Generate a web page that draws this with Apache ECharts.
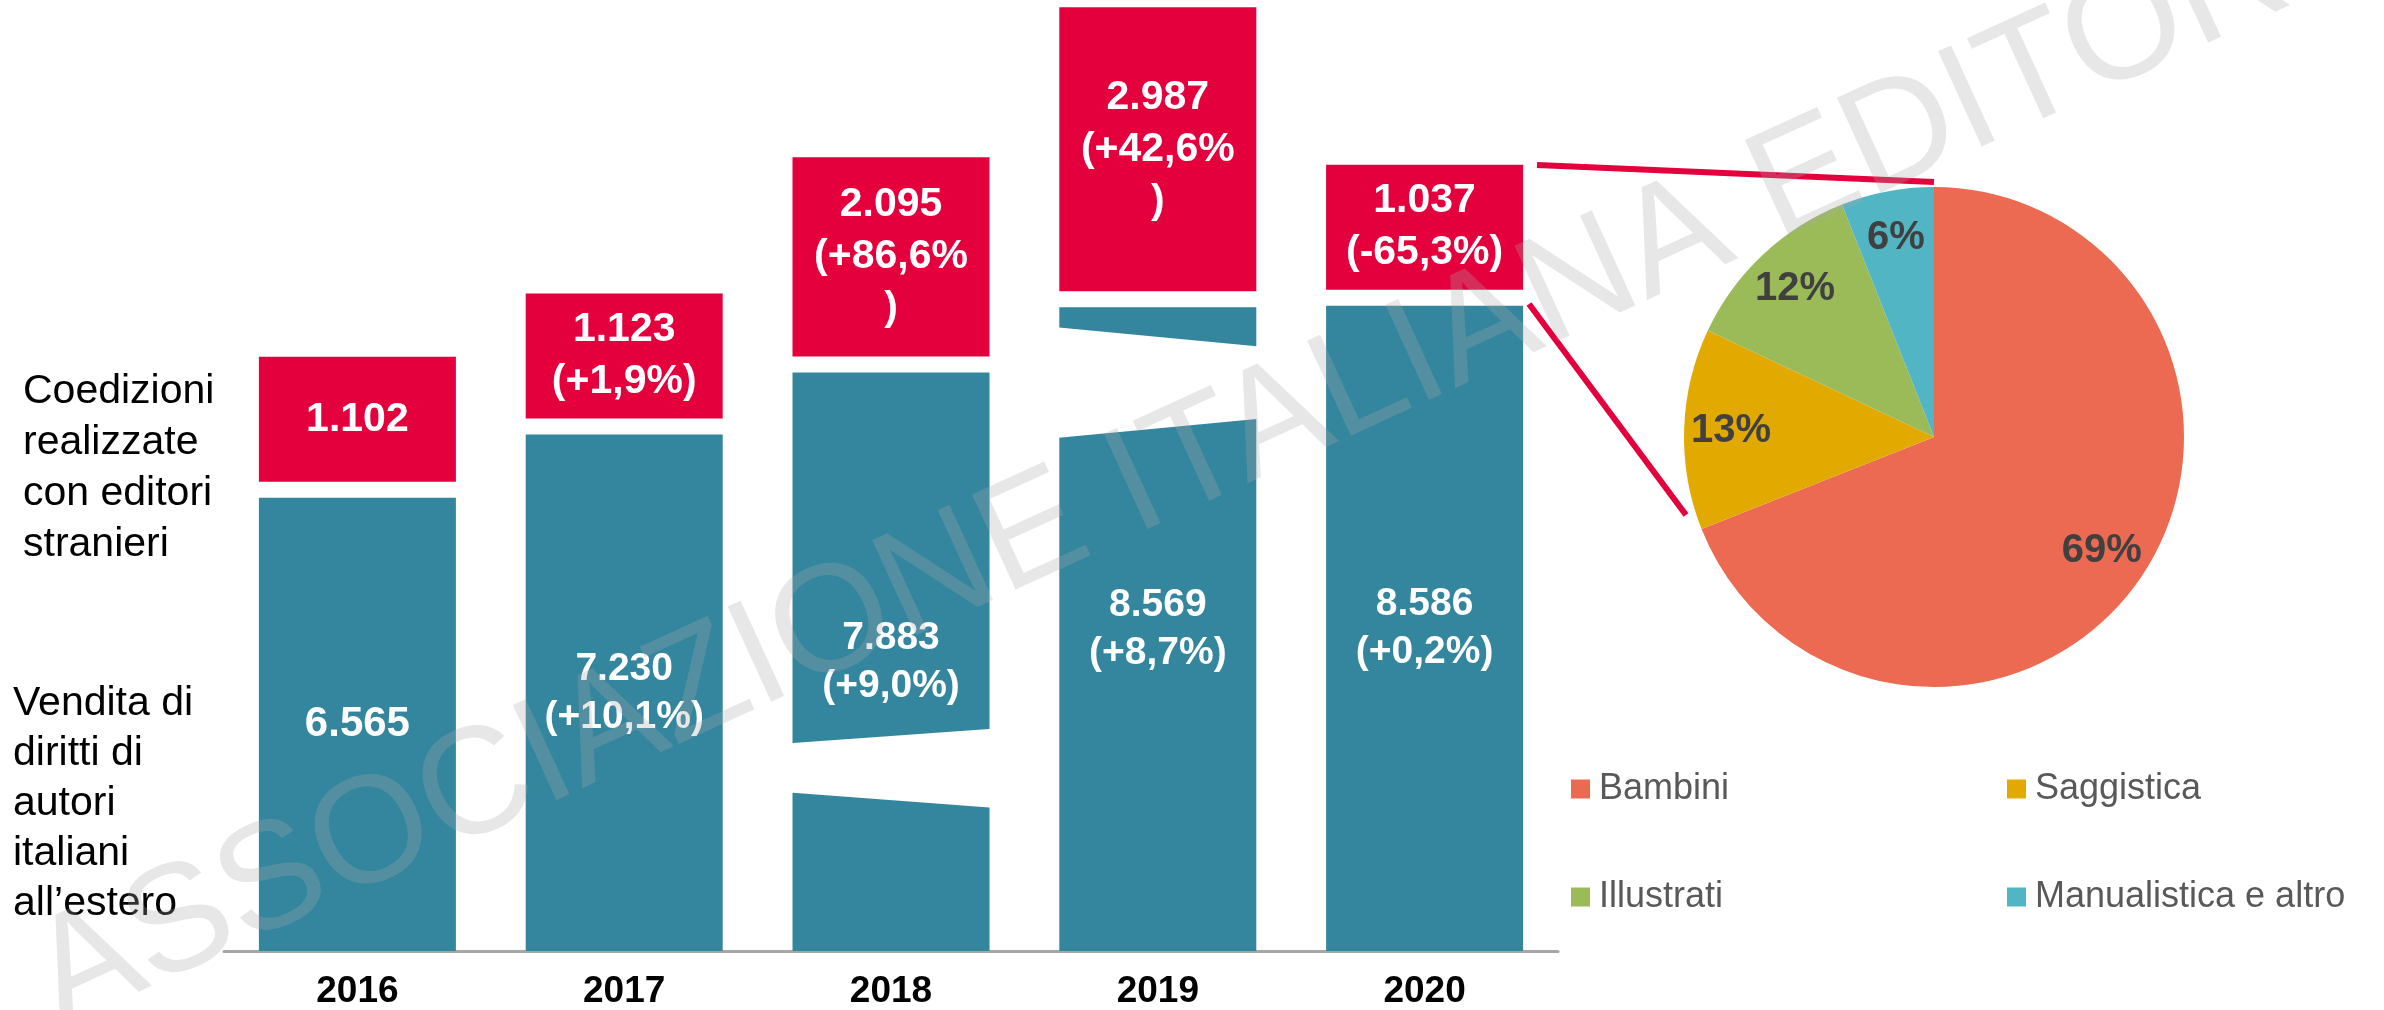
<!DOCTYPE html>
<html>
<head>
<meta charset="utf-8">
<script src="https://cdn.jsdelivr.net/npm/echarts@6/dist/echarts.min.js"></script>
<style>
  html, body { margin: 0; padding: 0; background: #fff; }
  #main { width: 2384px; height: 1010px; }
</style>
</head>
<body>
<div id="main"></div>
<script>
// dati
var years = ['2016', '2017', '2018', '2019', '2020'];
var venditaDiritti = [6565, 7230, 7883, 8569, 8586];
var venditaVar = [null, 10.1, 9.0, 8.7, 0.2];
var coedizioni = [1102, 1123, 2095, 2987, 1037];
var coedizioniVar = [null, 1.9, 86.6, 42.6, -65.3];
var generi = ['Bambini', 'Saggistica', 'Illustrati', 'Manualistica e altro'];
var quote2020 = [69, 13, 12, 6];

// stile
var FONT = '"Liberation Sans", Arial, sans-serif';
var TEAL = '#33869D';
var RED = '#E4003C';
var pieColors = ['#EC6A52', '#E2AA00', '#9BBB59', '#52B5C3'];
var barW = 197;
var gap = 16;
var redMinH = 125;
var yMin = 1800;
// barre interrotte: frazioni dell'altezza (sx alto, dx alto, dx basso, sx basso)
var breakShapes = {
    '2018': [0.359, 0.384, 0.2475, 0.274],
    '2019': [0.969, 0.939, 0.827, 0.797]
};

function fmtNum(v) {
    return String(v).replace(/\B(?=(\d{3})+(?!\d))/g, '.');
}
function fmtVar(v) {
    return (v > 0 ? '+' : '') + v.toFixed(1).replace('.', ',') + '%';
}
function label(values, vars, i) {
    var s = fmtNum(values[i]);
    if (vars[i] !== null) s += '\n(' + fmtVar(vars[i]) + ')';
    return s;
}

var customData = [];
for (var i = 0; i < years.length; i++) {
    customData.push([i, venditaDiritti[i], coedizioni[i]]);
}

var myChart = echarts.init(document.getElementById('main'));
var option = {
    animation: false,
    textStyle: { fontFamily: FONT },
    grid: { left: 224, width: 1334, top: 0, bottom: 55 },
    xAxis: {
        type: 'category',
        data: years,
        axisTick: { show: false },
        axisLine: { lineStyle: { color: '#A6A6A6', width: 3 } },
        axisLabel: { margin: 22, fontSize: 37, fontWeight: 'bold', color: '#000', fontFamily: FONT }
    },
    yAxis: {
        type: 'value',
        show: false,
        min: yMin,
        max: 11800,
        splitLine: { show: false }
    },
    legend: [{
        data: ['Bambini', 'Illustrati'],
        orient: 'vertical',
        left: 1571,
        top: 769,
        padding: 0,
        itemGap: 68,
        itemWidth: 19,
        itemHeight: 19,
        icon: 'rect',
        selectedMode: false,
        textStyle: { fontSize: 36, lineHeight: 40, color: '#595959', fontFamily: FONT, padding: [0, 0, 0, 4] }
    }, {
        data: ['Saggistica', 'Manualistica e altro'],
        orient: 'vertical',
        left: 2007,
        top: 769,
        padding: 0,
        itemGap: 68,
        itemWidth: 19,
        itemHeight: 19,
        icon: 'rect',
        selectedMode: false,
        textStyle: { fontSize: 36, lineHeight: 40, color: '#595959', fontFamily: FONT, padding: [0, 0, 0, 4] }
    }],
    series: [{
        name: 'Vendita di diritti',
        type: 'bar',
        z: 2,
        data: venditaDiritti.map(function (v, k) {
            return k === 0 ? { value: v, label: { fontSize: 42 } } : v;
        }),
        barWidth: barW,
        itemStyle: { color: TEAL },
        label: {
            show: true,
            position: 'inside',
            color: '#fff',
            fontSize: 39,
            fontWeight: 'bold',
            lineHeight: 48,
            fontFamily: FONT,
            formatter: function (p) { return label(venditaDiritti, venditaVar, p.dataIndex); }
        }
    }, {
        name: 'Coedizioni',
        type: 'custom',
        z: 10,
        clip: false,
        data: customData,
        encode: { x: 0, y: 1 },
        renderItem: function (params, api) {
            var idx = params.dataIndex;
            var top = api.coord([api.value(0), api.value(1)]);
            var bottom = api.coord([api.value(0), yMin]);
            var h = Math.max(api.size([0, api.value(2)])[1], redMinH);
            var x = top[0] - barW / 2;
            var children = [{
                type: 'rect',
                shape: { x: x, y: top[1] - gap - h, width: barW, height: h },
                style: { fill: RED },
                textContent: {
                    style: {
                        text: label(coedizioni, coedizioniVar, idx),
                        fill: '#fff',
                        fontSize: 41,
                        fontWeight: 'bold',
                        fontFamily: FONT,
                        lineHeight: 52,
                        width: 162,
                        overflow: 'breakAll',
                        align: 'center'
                    }
                },
                textConfig: { position: 'inside' }
            }];
            var brk = breakShapes[years[idx]];
            if (brk) {
                var span = bottom[1] - top[1];
                var b = bottom[1];
                children.push({
                    type: 'polygon',
                    z2: 20,
                    shape: {
                        points: [
                            [x - 3, b - brk[0] * span],
                            [x + barW + 3, b - brk[1] * span],
                            [x + barW + 3, b - brk[2] * span],
                            [x - 3, b - brk[3] * span]
                        ]
                    },
                    style: { fill: '#ffffff' }
                });
            }
            return { type: 'group', children: children };
        }
    }, {
        name: 'Generi 2020',
        type: 'pie',
        center: [1934, 437],
        radius: 250,
        startAngle: 90,
        clockwise: true,
        silent: true,
        label: { show: false },
        labelLine: { show: false },
        data: generi.map(function (g, k) {
            return { name: g, value: quote2020[k], itemStyle: { color: pieColors[k] } };
        })
    }, {
        name: 'Etichette',
        type: 'pie',
        center: [1934, 437],
        radius: [150, 250],
        startAngle: 90,
        clockwise: true,
        silent: true,
        itemStyle: { color: 'rgba(0,0,0,0)' },
        label: {
            show: true,
            position: 'inside',
            formatter: '{c}%',
            color: '#404040',
            fontSize: 40,
            fontWeight: 'bold',
            fontFamily: FONT
        },
        labelLine: { show: false },
        data: generi.map(function (g, k) {
            return { name: g, value: quote2020[k] };
        })
    }],
    graphic: [{
        type: 'text',
        left: 23,
        top: 366,
        style: {
            text: 'Coedizioni\nrealizzate\ncon editori\nstranieri',
            font: '41px ' + FONT,
            lineHeight: 51,
            fill: '#000'
        }
    }, {
        type: 'text',
        left: 13,
        top: 679,
        style: {
            text: 'Vendita di\ndiritti di\nautori\nitaliani\nall\u2019estero',
            font: '41px ' + FONT,
            lineHeight: 50,
            fill: '#000'
        }
    }, {
        type: 'line',
        shape: { x1: 1537, y1: 165, x2: 1934, y2: 182 },
        style: { stroke: RED, lineWidth: 6 }
    }, {
        type: 'line',
        shape: { x1: 1529, y1: 304, x2: 1686, y2: 515 },
        style: { stroke: RED, lineWidth: 6 }
    }, {
        type: 'text',
        x: 1180,
        y: 468,
        rotation: 0.43,
        z: 100,
        silent: true,
        style: {
            text: 'ASSOCIAZIONE ITALIANA EDITORI',
            font: '152px ' + FONT,
            fill: 'rgba(170,170,170,0.28)',
            align: 'center',
            verticalAlign: 'middle'
        }
    }]
};
myChart.setOption(option);
</script>
</body>
</html>
